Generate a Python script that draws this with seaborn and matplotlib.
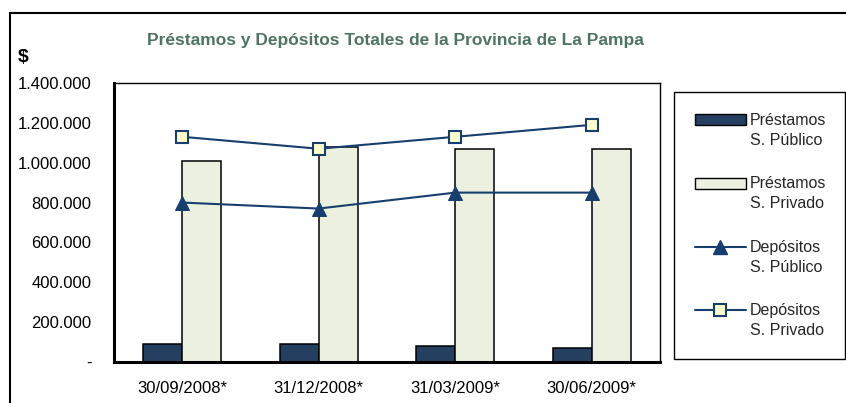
import numpy as np
import pandas as pd
import matplotlib
matplotlib.use("Agg")
import matplotlib.pyplot as plt
import seaborn as sns
from matplotlib.patches import Patch, Rectangle
from matplotlib.lines import Line2D
from matplotlib.legend_handler import HandlerPatch, HandlerLine2D

# ------------------------------------------------------------------
#  Datos (en $)
# ------------------------------------------------------------------
fechas = ["30/09/2008*", "31/12/2008*", "31/03/2009*", "30/06/2009*"]
prestamos_publico = [90000, 90000, 78000, 68000]
prestamos_privado = [1010000, 1080000, 1070000, 1070000]
depositos_publico = [800000, 770000, 850000, 850000]
depositos_privado = [1130000, 1070000, 1130000, 1190000]

serie_bar = ["Préstamos\nS. Público", "Préstamos\nS. Privado"]
serie_lin = ["Depósitos\nS. Público", "Depósitos\nS. Privado"]
titulo = "Préstamos y Depósitos Totales de la Provincia de La Pampa"
y_ticks = [0, 200000, 400000, 600000, 800000, 1000000, 1200000, 1400000]

# colores
AZUL_OSCURO = "#243F60"
VERDE_CLARO = "#EBF1DE"
AZUL_LINEA = "#163E6E"
AMARILLO = "#FFFFCC"
COLOR_TITULO = "#4E7563"

# ------------------------------------------------------------------
#  Tablas para seaborn
# ------------------------------------------------------------------
df_bar = pd.DataFrame({
    "fecha": fechas * 2,
    "serie": [serie_bar[0]] * len(fechas) + [serie_bar[1]] * len(fechas),
    "valor": prestamos_publico + prestamos_privado,
})
df_lin = pd.DataFrame({
    "pos": list(range(len(fechas))) * 2,
    "serie": [serie_lin[0]] * len(fechas) + [serie_lin[1]] * len(fechas),
    "valor": depositos_publico + depositos_privado,
})

sns.set_theme(style="white")
plt.rcParams["font.family"] = ["Liberation Sans", "DejaVu Sans"]

fig = plt.figure(figsize=(8.46, 4.03), dpi=100)
ax = fig.add_axes([114 / 846, 1 - 362 / 403, (660 - 114) / 846, (362 - 83) / 403])

sns.barplot(data=df_bar, x="fecha", y="valor", hue="serie", order=fechas,
            hue_order=serie_bar, palette=[AZUL_OSCURO, VERDE_CLARO],
            width=0.57, gap=0, saturation=1, edgecolor="black", linewidth=1.1,
            legend=False, ax=ax)

d_pub = df_lin[df_lin["serie"] == serie_lin[0]]
d_priv = df_lin[df_lin["serie"] == serie_lin[1]]
sns.lineplot(data=d_pub, x="pos", y="valor", color=AZUL_LINEA, linewidth=1.5,
             marker="^", markersize=10, markerfacecolor=AZUL_LINEA,
             markeredgecolor=AZUL_LINEA, legend=False, ax=ax)
sns.lineplot(data=d_priv, x="pos", y="valor", color=AZUL_LINEA, linewidth=1.5,
             marker="s", markersize=9, markerfacecolor=AMARILLO,
             markeredgecolor=AZUL_LINEA, markeredgewidth=1.5, legend=False, ax=ax)

# ejes
ax.set_xlim(-0.5, len(fechas) - 0.5)
ax.set_ylim(0, 1400000)
ax.set_xlabel("")
ax.set_ylabel("")
ax.set_yticks(y_ticks)
ax.set_yticklabels(["-" if v == 0 else f"{v:,.0f}".replace(",", ".") for v in y_ticks])
ax.set_xticks(range(len(fechas)))
ax.set_xticklabels(fechas)
ax.set_xticks(np.arange(-0.5, len(fechas)), minor=True)
ax.tick_params(axis="x", which="major", length=0, pad=14, labelsize=12, colors="black")
ax.tick_params(axis="x", which="minor", direction="inout", length=8.5, width=2, color="black")
ax.tick_params(axis="y", direction="inout", length=8.5, width=2, pad=12, labelsize=12,
               color="black", labelcolor="black")
for lado in ["left", "bottom"]:
    ax.spines[lado].set_linewidth(2.2)
    ax.spines[lado].set_color("black")
for lado in ["top", "right"]:
    ax.spines[lado].set_linewidth(1.0)
    ax.spines[lado].set_color("black")
ax.grid(False)


# leyenda: el símbolo va alineado con la primera línea del texto
class PatchArriba(HandlerPatch):
    def create_artists(self, legend, orig_handle, xdescent, ydescent, width, height, fontsize, trans):
        arts = super().create_artists(legend, orig_handle, xdescent, ydescent, width, height, fontsize, trans)
        for a in arts:
            a.set_y(a.get_y() + 0.68 * fontsize)
        return arts


class LineaArriba(HandlerLine2D):
    def create_artists(self, legend, orig_handle, xdescent, ydescent, width, height, fontsize, trans):
        arts = super().create_artists(legend, orig_handle, xdescent, ydescent, width, height, fontsize, trans)
        for a in arts:
            a.set_ydata(np.asarray(a.get_ydata()) + 0.68 * fontsize)
        return arts


h_pp = Patch(facecolor=AZUL_OSCURO, edgecolor="black", linewidth=1)
h_pr = Patch(facecolor=VERDE_CLARO, edgecolor="black", linewidth=1)
h_dp = Line2D([], [], color=AZUL_LINEA, linewidth=1.5, marker="^", markersize=10,
              markerfacecolor=AZUL_LINEA, markeredgecolor=AZUL_LINEA)
h_dr = Line2D([], [], color=AZUL_LINEA, linewidth=1.5, marker="s", markersize=9,
              markerfacecolor=AMARILLO, markeredgecolor=AZUL_LINEA, markeredgewidth=1.5)

leg = ax.legend([h_pp, h_pr, h_dp, h_dr], serie_bar + serie_lin,
                handler_map={Patch: PatchArriba(), Line2D: LineaArriba()},
                loc="upper left",
                bbox_to_anchor=(674 / 846, 1 - 360 / 403, (845 - 674) / 846, (360 - 92) / 403),
                bbox_transform=fig.transFigure, mode="expand", borderaxespad=0,
                fontsize=11.5, handlelength=3.2, handleheight=0.65, handletextpad=0.25,
                labelspacing=1.8, borderpad=1.3, fancybox=False, framealpha=1,
                edgecolor="black")
leg.get_frame().set_linewidth(1.0)
for t in leg.get_texts():
    t.set_linespacing(1.4)

# textos
fig.text(395 / 846, 1 - 40 / 403, titulo, ha="center", va="center",
         fontsize=12.5, fontweight="bold", color=COLOR_TITULO)
fig.text(23 / 846, 1 - 57 / 403, "$", ha="center", va="center",
         fontsize=14, fontweight="bold", color="black")

# marco exterior del gráfico
fig.patches.append(Rectangle((10 / 846, -0.05), 1.0, 1 - 13 / 403 + 0.05,
                             transform=fig.transFigure, fill=False,
                             edgecolor="black", linewidth=1.5))

fig.savefig("out.png", dpi=100)
